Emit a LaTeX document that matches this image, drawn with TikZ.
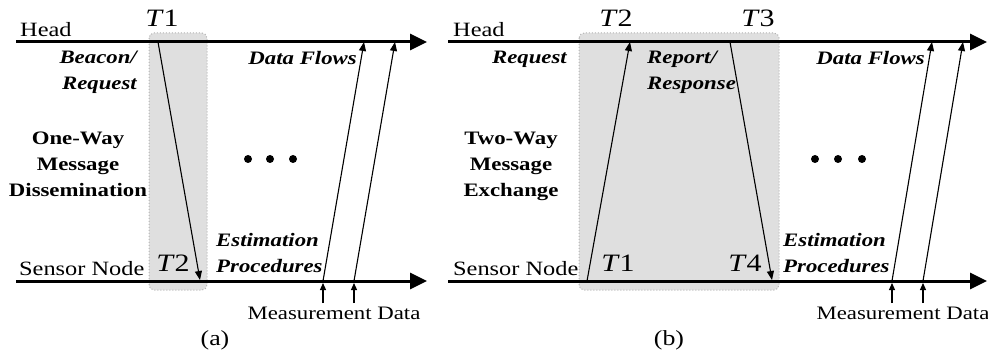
\documentclass[tikz,border=0pt]{standalone}
\usepackage{fontspec}
\setmainfont[FakeStretch=1.2]{Liberation Serif}
\usetikzlibrary{arrows.meta, positioning}

\begin{document}
\begin{tikzpicture}[x=1pt, y=-1pt,
  timeline/.style={line width=3pt, -{Triangle[length=17pt,width=16pt]}},
  msg/.style={line width=1.1pt, -{Triangle[length=9pt,width=7pt]}},
  meas/.style={line width=1.1pt, shorten >=2pt, -{Triangle[length=7pt,width=6pt]}},
  window/.style={draw=gray!60, dotted, line width=1pt, fill=gray!25, rounded corners=5pt},
  lbl/.style={inner sep=0pt, font=\fontsize{20.3}{25}\selectfont},
  small/.style={inner sep=0pt, font=\fontsize{19}{25}\selectfont},
  caption/.style={inner sep=0pt, font=\fontsize{21.5}{25}\selectfont},
  tag/.style={inner sep=0pt, font=\fontsize{25}{25}\selectfont},
  note/.style={inner sep=0pt, align=center, font=\fontsize{19}{26}\selectfont\bfseries},
  phase/.style={inner sep=0pt, font=\fontsize{19}{26}\selectfont\bfseries\itshape},
  dot/.style={circle, fill, inner sep=0pt, minimum size=8pt}
]
  \useasboundingbox (0,0) rectangle (988,358);

  % (a) one-way
  \draw[window] (149,33) rectangle (207,290);
  \coordinate (aHs) at (16,42);
  \coordinate (aHe) at (427,42);
  \coordinate (aSs) at (16,281);
  \coordinate (aSe) at (427,281);
  \draw[timeline] (aHs) -- (aHe);
  \draw[timeline] (aSs) -- (aSe);
  \node[lbl, anchor=base west] (aHead) at (20,37) {Head};
  \node[lbl, anchor=base west] (aSensor) at (19,275) {Sensor Node};
  \node[tag, anchor=base] (aT1) at (162,27) {\textit{T}1};
  \node[tag, anchor=base] (aT2) at (173,272) {\textit{T}2};
  \coordinate (aTx) at (158,42);
  \coordinate (aRx) at (200,280);
  \draw[msg] (aTx) -- (aRx);
  \node[phase, align=right, anchor=north east] (aBeacon) at (137,51) {Beacon/\\Request};
  \node[note, anchor=north] (aOneWay) at (78,132) {One-Way\\Message\\Dissemination};
  \node[phase, anchor=north east] (aFlows) at (357,51) {Data Flows};
  \node[phase, align=left, anchor=north west] (aEst) at (216,233) {Estimation\\Procedures};
  \foreach \x [count=\i] in {248,270,293}
    \node[dot] (aDot\i) at (\x,159) {};
  \foreach \xs/\xe [count=\i] in {323/364, 354/395} {
    \coordinate (aD\i s) at (\xs,281);
    \coordinate (aD\i e) at (\xe,42);
    \coordinate (aM\i) at (\xs,303);
    \draw[msg] (aD\i s) -- (aD\i e);
    \draw[meas] (aM\i) -- (aD\i s);
  }
  \node[small, anchor=base] (aMeas) at (334,319) {Measurement Data};
  \node[caption, anchor=base] (aCap) at (215,345) {(a)};

  % (b) two-way
  \draw[window] (579,33) rectangle (779,290);
  \coordinate (bHs) at (448,42);
  \coordinate (bHe) at (987,42);
  \coordinate (bSs) at (448,281);
  \coordinate (bSe) at (987,281);
  \draw[timeline] (bHs) -- (bHe);
  \draw[timeline] (bSs) -- (bSe);
  \node[lbl, anchor=base west] (bHead) at (453,37) {Head};
  \node[lbl, anchor=base west] (bSensor) at (453,275) {Sensor Node};
  \node[tag, anchor=base] (bT2) at (616,27) {\textit{T}2};
  \node[tag, anchor=base] (bT3) at (758,27) {\textit{T}3};
  \node[tag, anchor=base] (bT1) at (618,272) {\textit{T}1};
  \node[tag, anchor=base] (bT4) at (745,272) {\textit{T}4};
  \coordinate (bReqTx) at (587,281);
  \coordinate (bReqRx) at (630,42);
  \coordinate (bRepTx) at (730,42);
  \coordinate (bRepRx) at (772,280);
  \draw[msg] (bReqTx) -- (bReqRx);
  \draw[msg] (bRepTx) -- (bRepRx);
  \node[phase, anchor=north east] (bRequest) at (567,51) {Request};
  \node[phase, align=left, anchor=north west] (bReport) at (647,51) {Report/\\Response};
  \node[note, anchor=north] (bTwoWay) at (511,132) {Two-Way\\Message\\Exchange};
  \node[phase, anchor=north east] (bFlows) at (925,51) {Data Flows};
  \node[phase, align=left, anchor=north west] (bEst) at (783,233) {Estimation\\Procedures};
  \foreach \x [count=\i] in {815,838,862}
    \node[dot] (bDot\i) at (\x,159) {};
  \foreach \xs/\xe [count=\i] in {892/932, 923/963} {
    \coordinate (bD\i s) at (\xs,281);
    \coordinate (bD\i e) at (\xe,42);
    \coordinate (bM\i) at (\xs,303);
    \draw[msg] (bD\i s) -- (bD\i e);
    \draw[meas] (bM\i) -- (bD\i s);
  }
  \node[small, anchor=base] (bMeas) at (903,319) {Measurement Data};
  \node[caption, anchor=base] (bCap) at (669,345) {(b)};
\end{tikzpicture}
\end{document}
